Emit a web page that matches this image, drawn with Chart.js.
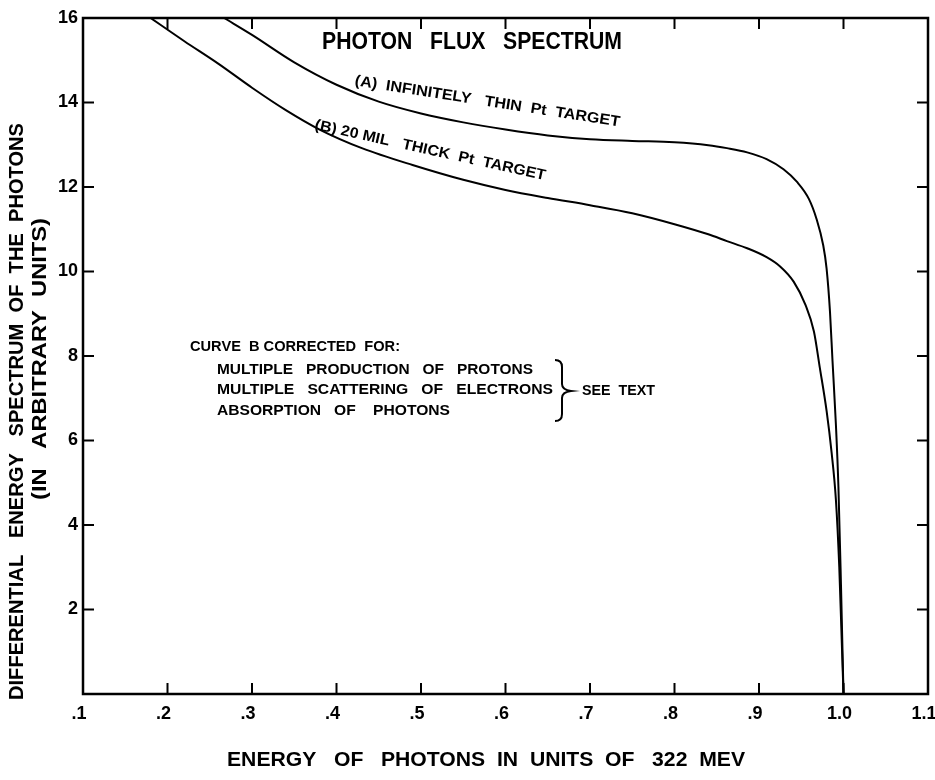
<!DOCTYPE html>
<html>
<head>
<meta charset="utf-8">
<script src="https://cdn.jsdelivr.net/npm/chart.js@4.4.1/dist/chart.umd.min.js"></script>
<style>
  html, body { margin: 0; padding: 0; background: #fff; }
  #wrap { width: 935px; height: 780px; position: relative; }
</style>
</head>
<body>
<div id="wrap"><canvas id="spectrum"></canvas></div>
<script>
// Curve (A): infinitely thin Pt target
const thinX = [0.267, 0.30, 0.35, 0.40, 0.45, 0.50, 0.55, 0.60, 0.65, 0.70, 0.75, 0.80, 0.84, 0.862, 0.886, 0.909, 0.929, 0.945, 0.959, 0.968, 0.976, 0.980, 0.984, 0.987, 0.991, 0.994, 0.997, 1.0];
const thinY = [16.0, 15.6, 14.95, 14.42, 14.02, 13.74, 13.53, 13.36, 13.22, 13.13, 13.09, 13.06, 12.99, 12.92, 12.82, 12.66, 12.42, 12.12, 11.72, 11.25, 10.62, 10.07, 9.05, 7.88, 6.38, 4.9, 2.6, 0];

// Curve (B): 20 mil thick Pt target
const thickX = [0.18, 0.22, 0.26, 0.30, 0.34, 0.38, 0.43, 0.49, 0.55, 0.60, 0.65, 0.70, 0.75, 0.80, 0.84, 0.862, 0.886, 0.909, 0.925, 0.941, 0.955, 0.965, 0.972, 0.980, 0.986, 0.991, 0.995, 0.998, 1.0];
const thickY = [16.0, 15.45, 14.92, 14.35, 13.82, 13.36, 12.92, 12.52, 12.17, 11.93, 11.74, 11.57, 11.38, 11.12, 10.88, 10.72, 10.55, 10.34, 10.12, 9.76, 9.21, 8.58, 7.72, 6.7, 5.7, 4.6, 3.0, 1.2, 0];

// Axis ticks
const xTickValues = [0.1, 0.2, 0.3, 0.4, 0.5, 0.6, 0.7, 0.8, 0.9, 1.0, 1.1];
const xTickLabels = ['.1', '.2', '.3', '.4', '.5', '.6', '.7', '.8', '.9', '1.0', '1.1'];
const yTickValues = [0, 2, 4, 6, 8, 10, 12, 14, 16];
const yTickLabels = ['', '2', '4', '6', '8', '10', '12', '14', '16'];

const FONT = '"Liberation Sans", Arial, sans-serif';

// texte étiré pour tenir dans une largeur donnée (lettrage à la main)
function fitText(ctx, text, x, y, width, font, angle) {
    ctx.save();
    ctx.font = font;
    const w = ctx.measureText(text).width;
    ctx.translate(x, y);
    if (angle) ctx.rotate(angle);
    ctx.scale(width / w, 1);
    ctx.textAlign = 'left';
    ctx.textBaseline = 'middle';
    ctx.fillStyle = '#000';
    ctx.fillText(text, 0, 0);
    ctx.restore();
}

const framePlugin = {
    id: 'frame',
    afterDraw(chart) {
        const ctx = chart.ctx;
        const a = chart.chartArea;
        const xs = chart.scales.x;
        const ys = chart.scales.y;
        const tl = 11;

        ctx.save();
        ctx.strokeStyle = '#000';
        ctx.lineWidth = 2.5;
        ctx.strokeRect(a.left, a.top, a.right - a.left, a.bottom - a.top);

        // ticks vers l'intérieur sur les quatre côtés
        ctx.lineWidth = 2;
        ctx.beginPath();
        xTickValues.slice(1, -1).forEach(v => {
            const px = xs.getPixelForValue(v);
            ctx.moveTo(px, a.bottom); ctx.lineTo(px, a.bottom - tl);
            ctx.moveTo(px, a.top); ctx.lineTo(px, a.top + tl);
        });
        yTickValues.slice(1, -1).forEach(v => {
            const py = ys.getPixelForValue(v);
            ctx.moveTo(a.left, py); ctx.lineTo(a.left + tl, py);
            ctx.moveTo(a.right, py); ctx.lineTo(a.right - tl, py);
        });
        ctx.stroke();

        // accolade
        ctx.lineWidth = 2;
        ctx.beginPath();
        ctx.moveTo(555, 360);
        ctx.quadraticCurveTo(562, 360, 562, 367);
        ctx.lineTo(562, 384);
        ctx.quadraticCurveTo(562, 390, 571, 391);
        ctx.quadraticCurveTo(562, 392, 562, 398);
        ctx.lineTo(562, 414);
        ctx.quadraticCurveTo(562, 421, 555, 421);
        ctx.stroke();
        ctx.restore();

        // textes
        fitText(ctx, 'PHOTON   FLUX   SPECTRUM', 322, 43, 300, 'bold 23px ' + FONT);
        fitText(ctx, '(A)  INFINITELY   THIN  Pt  TARGET', 355, 81, 268, 'bold 15px ' + FONT, 8.9 * Math.PI / 180);
        fitText(ctx, '(B) 20 MIL   THICK  Pt  TARGET', 315, 125, 236, 'bold 15px ' + FONT, 12.5 * Math.PI / 180);

        fitText(ctx, 'CURVE  B CORRECTED  FOR:', 190, 347, 210, 'bold 15px ' + FONT);
        fitText(ctx, 'MULTIPLE   PRODUCTION   OF   PROTONS', 217, 370, 316, 'bold 15px ' + FONT);
        fitText(ctx, 'MULTIPLE   SCATTERING   OF   ELECTRONS', 217, 390, 336, 'bold 15px ' + FONT);
        fitText(ctx, 'ABSORPTION   OF    PHOTONS', 217, 411, 233, 'bold 15px ' + FONT);
        fitText(ctx, 'SEE  TEXT', 582, 391, 73, 'bold 15px ' + FONT);

        fitText(ctx, 'ENERGY   OF   PHOTONS  IN  UNITS  OF   322  MEV', 227, 760, 518, 'bold 21px ' + FONT);
        fitText(ctx, 'DIFFERENTIAL   ENERGY   SPECTRUM  OF  THE  PHOTONS', 17.5, 700, 577, 'bold 20px ' + FONT, -Math.PI / 2);
        fitText(ctx, '(IN   ARBITRARY  UNITS)', 40.5, 500, 282, 'bold 20px ' + FONT, -Math.PI / 2);
    }
};

const lineStyle = {
    showLine: true,
    borderColor: '#000',
    borderWidth: 2,
    pointRadius: 0,
    cubicInterpolationMode: 'monotone',
    fill: false
};

new Chart(document.getElementById('spectrum'), {
    type: 'scatter',
    data: {
        datasets: [
            Object.assign({ label: '(A) Infinitely thin Pt target', data: thinX.map((x, i) => ({ x: x, y: thinY[i] })) }, lineStyle),
            Object.assign({ label: '(B) 20 mil thick Pt target', data: thickX.map((x, i) => ({ x: x, y: thickY[i] })) }, lineStyle)
        ]
    },
    options: {
        responsive: true,
        maintainAspectRatio: false,
        animation: false,
        events: [],
        layout: { padding: { top: 18, right: 7, left: 0, bottom: 0 } },
        plugins: {
            legend: { display: false },
            tooltip: { enabled: false }
        },
        scales: {
            x: {
                type: 'linear',
                min: 0.1,
                max: 1.1,
                afterBuildTicks: scale => { scale.ticks = xTickValues.map(v => ({ value: v })); },
                afterFit: scale => { scale.height = 86; scale.paddingLeft = 0; scale.paddingRight = 0; },
                grid: { display: false, drawTicks: false },
                border: { display: false },
                ticks: {
                    padding: 9,
                    labelOffset: -4,
                    maxRotation: 0,
                    autoSkip: false,
                    color: '#000',
                    font: { family: FONT, size: 18, weight: 'bold' },
                    callback: (v, i) => xTickLabels[i]
                }
            },
            y: {
                min: 0,
                max: 16,
                afterBuildTicks: scale => { scale.ticks = yTickValues.map(v => ({ value: v })); },
                afterFit: scale => { scale.width = 83; },
                grid: { display: false, drawTicks: false },
                border: { display: false },
                ticks: {
                    padding: 5,
                    autoSkip: false,
                    color: '#000',
                    font: { family: FONT, size: 18, weight: 'bold' },
                    callback: (v, i) => yTickLabels[i]
                }
            }
        }
    },
    plugins: [framePlugin]
});
</script>
</body>
</html>
